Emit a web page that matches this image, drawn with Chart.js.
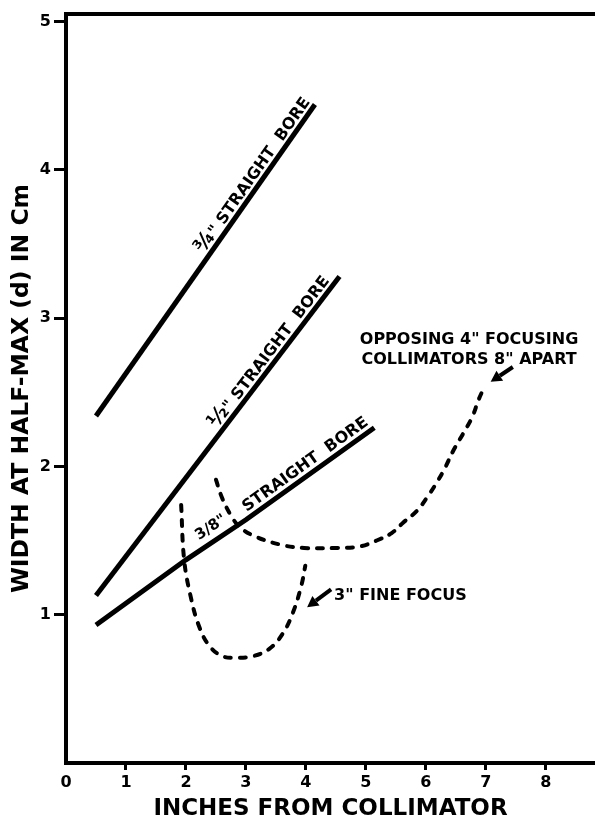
<!DOCTYPE html>
<html>
<head>
<meta charset="utf-8">
<script src="https://cdn.jsdelivr.net/npm/chart.js@4/dist/chart.umd.min.js"></script>
<style>
  html, body { margin: 0; padding: 0; background: #fff; }
  canvas { display: block; }
</style>
</head>
<body>
<canvas id="c" width="595" height="821"></canvas>
<script>
// Axis tick values
const xTicks = [0, 1, 2, 3, 4, 5, 6, 7, 8];
const yTicks = [1, 2, 3, 4, 5];

// Straight-bore collimators: inches from collimator vs width at half-max (cm)
const boreThreeQuarterX = [0.5, 4.15];
const boreThreeQuarterY = [2.34, 4.44];
const boreHalfX = [0.5, 4.56];
const boreHalfY = [1.13, 3.28];
const boreThreeEighthX = [0.5, 2.0, 3.0, 5.14];
const boreThreeEighthY = [0.93, 1.37, 1.64, 2.26];

// 3" fine focus collimator
const fineFocusX = [1.92, 1.97, 2.08, 2.22, 2.39, 2.61, 2.83, 3.11, 3.39, 3.61, 3.78, 3.92, 3.99];
const fineFocusY = [1.74, 1.37, 1.12, 0.92, 0.79, 0.72, 0.71, 0.72, 0.77, 0.87, 1.01, 1.19, 1.33];

// Opposing 4" focusing collimators, 8" apart
const opposingX = [2.5, 2.6, 2.75, 2.9, 3.17, 3.6, 3.97, 4.52, 4.9, 5.18, 5.43, 5.62, 5.85, 6.02, 6.18, 6.32, 6.45, 6.62, 6.77, 6.88, 6.98];
const opposingY = [1.91, 1.79, 1.67, 1.59, 1.525, 1.47, 1.45, 1.45, 1.46, 1.50, 1.55, 1.62, 1.70, 1.79, 1.89, 1.99, 2.10, 2.22, 2.33, 2.45, 2.54];

const FONT = '"DejaVu Sans", "Liberation Sans", sans-serif';
Chart.defaults.font.family = FONT;
Chart.defaults.color = '#000';

const pts = (xs, ys) => xs.map((x, i) => ({ x, y: ys[i] }));

function solid(xs, ys) {
  return { data: pts(xs, ys), showLine: true, borderColor: '#000', borderWidth: 5,
           pointRadius: 0, tension: 0, borderCapStyle: 'butt' };
}
function dashed(xs, ys) {
  return { data: pts(xs, ys), showLine: true, borderColor: '#000', borderWidth: 4,
           borderDash: [6, 9], borderCapStyle: 'round', pointRadius: 0, tension: 0.4 };
}

// Labels written along the straight-bore lines (pieces drawn one after another)
const lineLabels = [
  { xs: boreThreeQuarterX, ys: boreThreeQuarterY, at: 2.36, gap: 5,
    parts: [['¾', 21], ['" STRAIGHT  BORE', 16]] },
  { xs: boreHalfX, ys: boreHalfY, at: 2.58, gap: 5,
    parts: [['½', 21], ['" STRAIGHT  BORE', 16]] },
  { xs: boreThreeEighthX, ys: boreThreeEighthY, at: 3.07, gap: 6,
    parts: [['STRAIGHT  BORE', 16]] },
  { xs: boreThreeEighthX, ys: boreThreeEighthY, at: 2.3, gap: 9,
    parts: [['3/8"', 15]] }
];

// Free-standing notes and their pointer arrows
const notes = [
  { x: 6.72, y: 2.85, align: 'center', text: 'OPPOSING 4" FOCUSING' },
  { x: 6.72, y: 2.72, align: 'center', text: 'COLLIMATORS 8" APART' },
  { x: 4.47, y: 1.13, align: 'left', text: '3" FINE FOCUS' }
];
const arrows = [
  { from: [7.45, 2.67], to: [7.08, 2.57] },
  { from: [4.42, 1.17], to: [4.02, 1.05] }
];

const decorations = {
  id: 'decorations',
  afterDatasetsDraw(chart) {
    const { ctx, chartArea: a, scales: { x, y } } = chart;
    ctx.save();
    // closing frame line along the top
    ctx.strokeStyle = '#000';
    ctx.lineWidth = 4;
    ctx.beginPath();
    ctx.moveTo(a.left - 2, a.top);
    ctx.lineTo(a.right, a.top);
    ctx.stroke();

    ctx.fillStyle = '#000';

    // labels along lines
    lineLabels.forEach(l => {
      let i = 0;
      while (i < l.xs.length - 2 && l.at > l.xs[i + 1]) i++;
      const x0 = l.xs[i], x1 = l.xs[i + 1], y0 = l.ys[i], y1 = l.ys[i + 1];
      const yv = y0 + (y1 - y0) * (l.at - x0) / (x1 - x0);
      const px = x.getPixelForValue(l.at), py = y.getPixelForValue(yv);
      const ang = Math.atan2(y.getPixelForValue(y1) - y.getPixelForValue(y0),
                             x.getPixelForValue(x1) - x.getPixelForValue(x0));
      ctx.save();
      ctx.translate(px, py);
      ctx.rotate(ang);
      ctx.textAlign = 'left';
      ctx.textBaseline = 'alphabetic';
      let cx = 0;
      l.parts.forEach(([t, size]) => {
        ctx.font = 'bold ' + size + 'px ' + FONT;
        ctx.fillText(t, cx, -l.gap);
        cx += ctx.measureText(t).width;
      });
      ctx.restore();
    });

    // notes
    ctx.font = 'bold 16px ' + FONT;
    notes.forEach(n => {
      ctx.textAlign = n.align;
      ctx.textBaseline = 'middle';
      ctx.fillText(n.text, x.getPixelForValue(n.x), y.getPixelForValue(n.y));
    });

    // arrows
    arrows.forEach(ar => {
      const fx = x.getPixelForValue(ar.from[0]), fy = y.getPixelForValue(ar.from[1]);
      const tx = x.getPixelForValue(ar.to[0]), ty = y.getPixelForValue(ar.to[1]);
      const ang = Math.atan2(ty - fy, tx - fx);
      const head = 11, half = 6;
      const bx = tx - head * Math.cos(ang), by = ty - head * Math.sin(ang);
      ctx.lineWidth = 4;
      ctx.lineCap = 'butt';
      ctx.beginPath();
      ctx.moveTo(fx, fy);
      ctx.lineTo(bx, by);
      ctx.stroke();
      ctx.beginPath();
      ctx.moveTo(tx, ty);
      ctx.lineTo(bx - half * Math.sin(ang), by + half * Math.cos(ang));
      ctx.lineTo(bx + half * Math.sin(ang), by - half * Math.cos(ang));
      ctx.closePath();
      ctx.fill();
    });
    ctx.restore();
  }
};

new Chart(document.getElementById('c'), {
  type: 'scatter',
  data: {
    datasets: [
      solid(boreThreeQuarterX, boreThreeQuarterY),
      solid(boreHalfX, boreHalfY),
      solid(boreThreeEighthX, boreThreeEighthY),
      dashed(fineFocusX, fineFocusY),
      dashed(opposingX, opposingY)
    ]
  },
  options: {
    responsive: false,
    animation: false,
    devicePixelRatio: 1,
    layout: { padding: { top: 14, right: 0, bottom: 0, left: 0 } },
    plugins: { legend: { display: false }, tooltip: { enabled: false } },
    scales: {
      x: {
        type: 'linear', min: 0, max: 8.82,
        afterFit: s => { s.height = 58; },
        afterBuildTicks: s => { s.ticks = xTicks.map(v => ({ value: v })); },
        border: { display: true, width: 4, color: '#000' },
        grid: {
          drawOnChartArea: false, drawTicks: true, tickLength: 7, tickWidth: 3,
          tickColor: c => (c.tick && c.tick.value === 0) ? 'rgba(0,0,0,0)' : '#000'
        },
        ticks: { font: { size: 16, weight: 'bold' }, color: '#000', padding: 3, maxRotation: 0 },
        title: {
          display: true, text: 'INCHES FROM COLLIMATOR', color: '#000',
          font: { size: 23, weight: 'bold', lineHeight: 1 }, padding: { top: 0, bottom: 0 }
        }
      },
      y: {
        type: 'linear', min: 0, max: 5.05,
        afterFit: s => { s.width = 66; },
        afterBuildTicks: s => { s.ticks = yTicks.map(v => ({ value: v })); },
        border: { display: true, width: 4, color: '#000' },
        grid: { drawOnChartArea: false, drawTicks: true, tickLength: 12, tickWidth: 3, tickColor: '#000' },
        ticks: { font: { size: 16, weight: 'bold' }, color: '#000', padding: 3 },
        title: {
          display: true, text: 'WIDTH AT HALF-MAX (d) IN Cm', color: '#000',
          font: { size: 23.5, weight: 'bold', lineHeight: 1 }, padding: { top: 10, bottom: 0 }
        }
      }
    }
  },
  plugins: [decorations]
});
</script>
</body>
</html>
